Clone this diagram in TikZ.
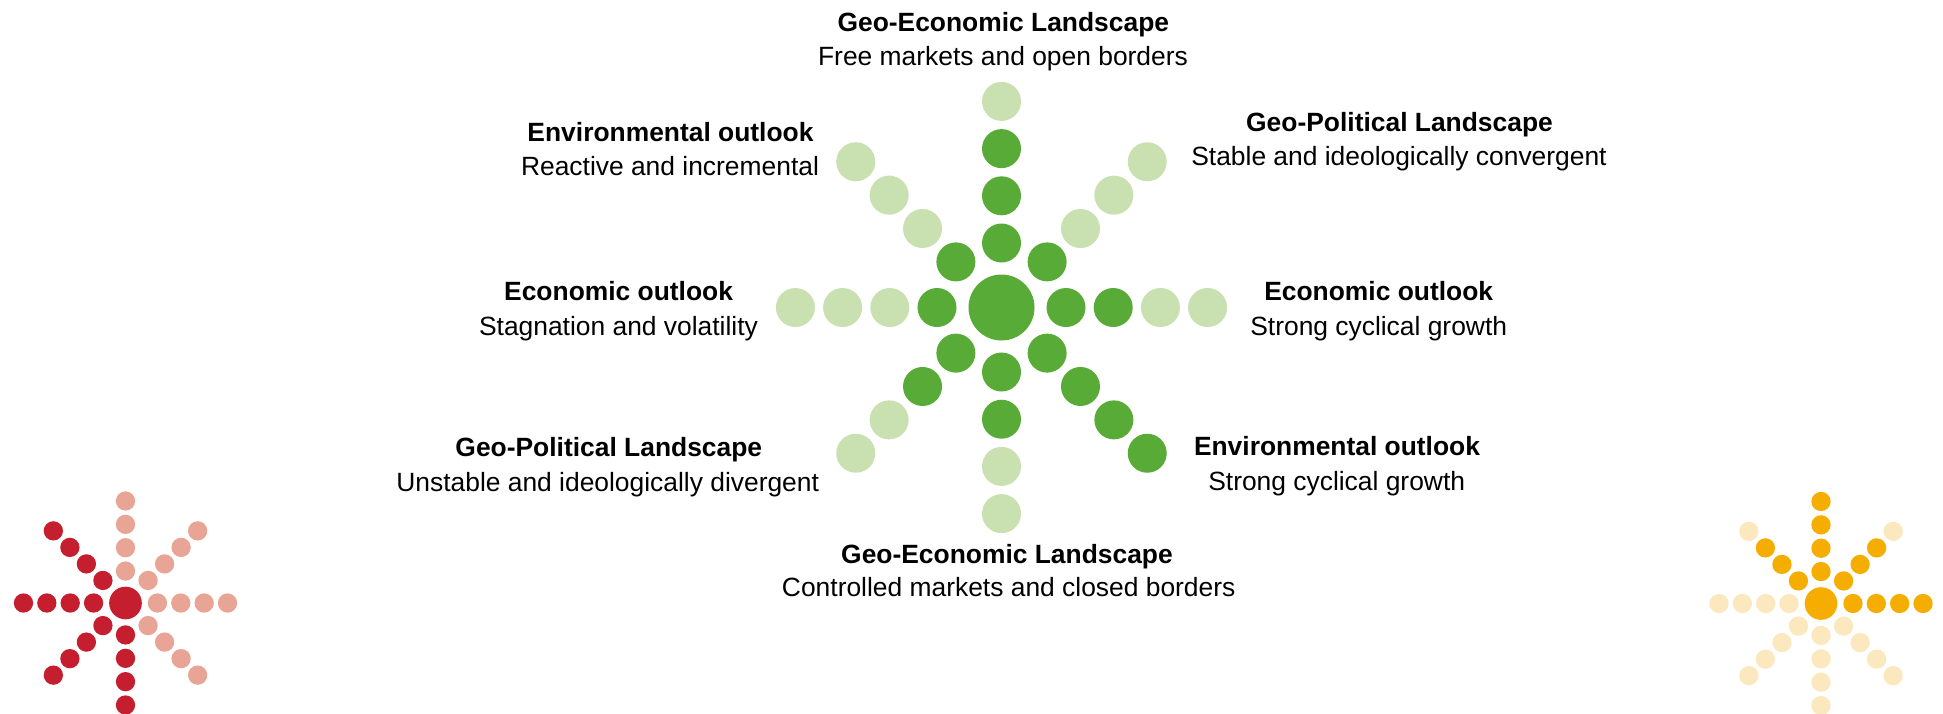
\documentclass[tikz,border=0pt]{standalone}
\usepackage{fontspec}
\setmainfont{Liberation Sans}
\definecolor{gdark}{HTML}{58AB36}
\definecolor{glight}{HTML}{C9E0B1}
\definecolor{rdark}{HTML}{C41E2F}
\definecolor{rlight}{HTML}{E8A595}
\definecolor{ydark}{HTML}{F5AE00}
\definecolor{ylight}{HTML}{FCE8BF}
\tikzset{
  lbl/.style={anchor=base, inner sep=0pt, font=\fontsize{26.4}{30}\selectfont},
  lblb/.style={lbl, font=\fontsize{26.4}{30}\selectfont\bfseries},
}
% #1 cx, #2 cy, #3 scale, #4 dark, #5 light, #6 list angle/ndark
\newcommand{\myburst}[6]{%
  \fill[#4] (#1,#2) circle[radius={33*#3}];
  \foreach \ang/\nd in {#6} {
    \foreach \k in {1,...,4} {
      \pgfmathsetmacro\dd{(64.5+47.2*(\k-1))*#3}
      \ifnum\k>\nd\relax\def\mycol{#5}\else\def\mycol{#4}\fi
      \fill[\mycol] ({#1+\dd*cos(\ang)},{#2-\dd*sin(\ang)}) circle[radius={19.5*#3}];
    }
  }%
}
\begin{document}
\begin{tikzpicture}[x=1pt,y=-1pt]
\useasboundingbox[fill=white] (0,0) rectangle (1943,713);
\clip (0,0) rectangle (1943,713);
% central star
\myburst{1001.5}{307.5}{1}{gdark}{glight}{90/3,45/1,0/2,-45/4,-90/2,-135/2,180/1,135/1}
% red star
\myburst{125.5}{603}{0.495}{rdark}{rlight}{90/0,45/0,0/0,-45/0,-90/4,-135/4,180/4,135/4}
% yellow star
\myburst{1821}{603.5}{0.495}{ydark}{ylight}{90/4,45/3,0/4,-45/0,-90/0,-135/0,180/0,135/3}
% labels
\node[lblb] (t1) at (1003.3,31.5) {Geo-Economic Landscape};
\node[lbl]  (t2) at (1003,65.5) {Free markets and open borders};
\node[lblb] (ul1) at (670.5,141.5) {Environmental outlook};
\node[lbl]  (ul2) at (670,175) {Reactive and incremental};
\node[lblb] (ur1) at (1399.5,131) {Geo-Political Landscape};
\node[lbl]  (ur2) at (1399,165.7) {Stable and ideologically convergent};
\node[lblb] (l1) at (618.6,300) {Economic outlook};
\node[lbl]  (l2) at (618.5,335) {Stagnation and volatility};
\node[lblb] (r1) at (1378.7,300) {Economic outlook};
\node[lbl]  (r2) at (1378.7,335) {Strong cyclical growth};
\node[lblb] (ll1) at (608.8,456.7) {Geo-Political Landscape};
\node[lbl]  (ll2) at (607.7,491.7) {Unstable and ideologically divergent};
\node[lblb] (lr1) at (1337,455) {Environmental outlook};
\node[lbl]  (lr2) at (1336.7,490) {Strong cyclical growth};
\node[lblb] (b1) at (1007,563.3) {Geo-Economic Landscape};
\node[lbl]  (b2) at (1008.7,596.5) {Controlled markets and closed borders};
\end{tikzpicture}
\end{document}
